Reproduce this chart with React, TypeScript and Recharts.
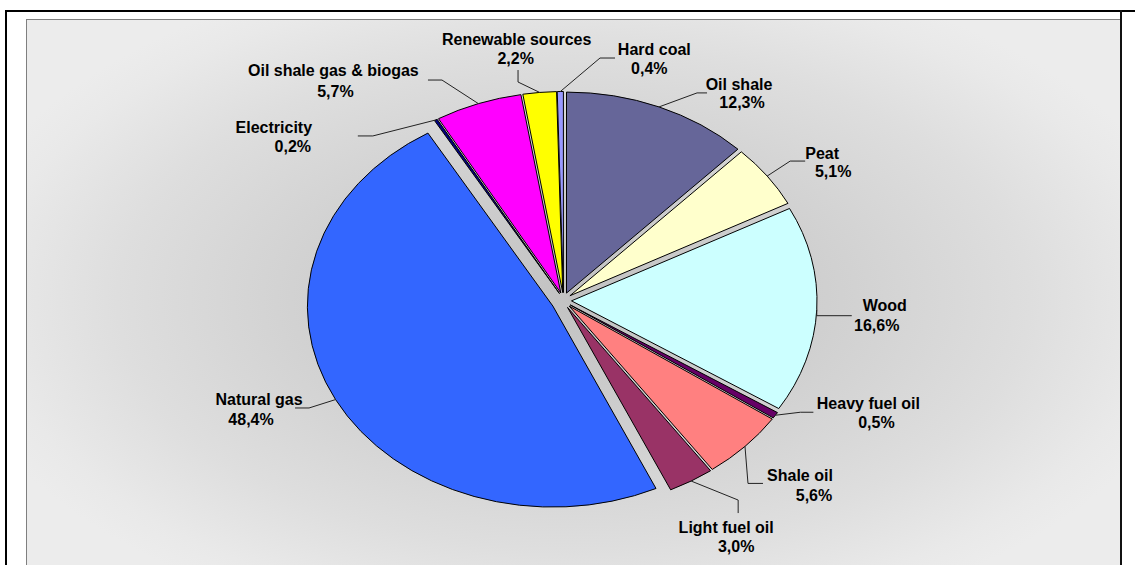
import { PieChart, Pie, Cell } from "recharts";

// fuel mix, clockwise from 12 o'clock
const fuels = [
  "Oil shale",
  "Peat",
  "Wood",
  "Heavy fuel oil",
  "Shale oil",
  "Light fuel oil",
  "Natural gas",
  "Electricity",
  "Oil shale gas & biogas",
  "Renewable sources",
  "Hard coal",
];
const shares = [12.3, 5.1, 16.6, 0.5, 5.6, 3.0, 48.4, 0.2, 5.7, 2.2, 0.4];

const colors = [
  "#666699",
  "#FFFFCC",
  "#CCFFFF",
  "#660066",
  "#FF8080",
  "#993366",
  "#3366FF",
  "#000080",
  "#FF00FF",
  "#FFFF00",
  "#9999FF",
];

// label placement relative to the slice's outer mid point
const labelLayout = [
  { line: [[38, -14], [48, -14]], t1: [80, -22], t2: [83, -4] },
  { line: [[23, -15], [38, -15]], t1: [55, -23], t2: [66, -5] },
  { line: [[0, 6], [35, 6]], t1: [68, -4], t2: [60, 16] },
  { line: [[25, -3], [38, -3]], t1: [93, -12], t2: [101, 7] },
  { line: [[3, 37], [18, 37]], t1: [55, 29], t2: [69, 49] },
  { line: [[47, 19], [47, 32]], t1: [35, 46], t2: [45, 65] },
  { line: [[-26.5, 8.4], [-40.5, 8.4]], t1: [-76.5, 0.4], t2: [-84.5, 20.4] },
  { line: [[-63, 16], [-78, 16]], t1: [-162, 8], t2: [-143, 27] },
  { line: [[-36.4, -23.6], [-50.4, -23.6]], t1: [-145, -33], t2: [-143, -12] },
  { line: [[-21.6, -10.4], [-21.6, -22.4]], t1: [-23, -53], t2: [-24, -34] },
  { line: [[39.7, -33.5], [54.7, -33.5]], t1: [94, -42], t2: [89, -23] },
];

const data = fuels.map((name, i) => ({ name, value: shares[i] }));

const RX = 245.5;
const RY = 201;
const K = RY / RX;
const EXPLODE = 8;
const EXPLODE_BIG = 12;
const explodeOf = (name: string) => (name === "Natural gas" ? EXPLODE_BIG : EXPLODE);

const RAD = Math.PI / 180;
const ellPt = (cx: number, cy: number, r: number, a: number) => [
  cx + r * Math.cos(a * RAD),
  cy - r * K * Math.sin(a * RAD),
];

const EllipseSector = (props: any) => {
  const { cx, cy, outerRadius, startAngle, endAngle, fill, payload } = props;
  const mid = (startAngle + endAngle) / 2;
  const e = explodeOf(payload?.name ?? props.name);
  const ox = e * Math.cos(mid * RAD);
  const oy = -e * Math.sin(mid * RAD);
  const [x1, y1] = ellPt(cx, cy, outerRadius, startAngle);
  const [x2, y2] = ellPt(cx, cy, outerRadius, endAngle);
  const large = Math.abs(startAngle - endAngle) > 180 ? 1 : 0;
  const sweep = startAngle > endAngle ? 1 : 0;
  const d = `M${cx},${cy} L${x1},${y1} A${outerRadius},${outerRadius * K} 0 ${large} ${sweep} ${x2},${y2} Z`;
  return (
    <path
      d={d}
      transform={`translate(${ox},${oy})`}
      fill={fill}
      stroke="#000"
      strokeWidth={1}
      strokeLinejoin="round"
    />
  );
};

const txt = {
  fontFamily: "'Liberation Sans', Arial, sans-serif",
  fontWeight: 700,
  fontSize: 16,
  fill: "#000",
};

const renderLabel = (props: any) => {
  const { cx, cy, outerRadius, midAngle, index, name, value } = props;
  const e = explodeOf(name);
  const [ex, ey] = ellPt(cx, cy, outerRadius, midAngle);
  const px = ex + e * Math.cos(midAngle * RAD);
  const py = ey - e * Math.sin(midAngle * RAD);
  const lay = labelLayout[index];
  const pts = [[px, py], ...lay.line.map(([dx, dy]) => [px + dx, py + dy])];
  const pct = value.toFixed(1).replace(".", ",") + "%";
  return (
    <g key={`lbl-${index}`}>
      <polyline
        points={pts.map((p) => p.join(",")).join(" ")}
        fill="none"
        stroke="#222"
        strokeWidth={1}
      />
      <text x={px + lay.t1[0]} y={py + lay.t1[1]} textAnchor="middle" dominantBaseline="central" {...txt}>
        {name}
      </text>
      <text x={px + lay.t2[0]} y={py + lay.t2[1]} textAnchor="middle" dominantBaseline="central" {...txt}>
        {pct}
      </text>
    </g>
  );
};

export default function App() {
  return (
    <div
      style={{
        position: "absolute",
        left: 0,
        top: 0,
        width: 1135,
        height: 565,
        background: "#fff",
        overflow: "hidden",
      }}
    >
      {/* outer frame */}
      <div style={{ position: "absolute", left: 5, top: 10, width: 1140, height: 2, background: "#000" }} />
      <div style={{ position: "absolute", left: 5, top: 10, width: 2, height: 560, background: "#000" }} />
      <div style={{ position: "absolute", left: 1120, top: 10, width: 2, height: 560, background: "#111" }} />
      {/* plot panel */}
      <div
        style={{
          position: "absolute",
          left: 26,
          top: 19,
          width: 1094,
          height: 560,
          borderLeft: "1px solid #7f7f7f",
          borderTop: "1px solid #7f7f7f",
          boxSizing: "border-box",
          background:
            "radial-gradient(ellipse 58% 62% at 50% 50%, #c2c2c2 0%, #d0d0d0 40%, #dedede 72%, #e9e9e9 92%, #ececec 100%)",
        }}
      />
      <PieChart
        width={1135}
        height={565}
        margin={{ top: 0, right: 0, bottom: 0, left: 0 }}
        style={{ position: "absolute", left: 0, top: 0 }}
      >
        <Pie
          data={data}
          dataKey="value"
          nameKey="name"
          cx={563.5}
          cy={300.5}
          outerRadius={RX}
          startAngle={90}
          endAngle={-270}
          stroke="#000"
          shape={EllipseSector}
          label={renderLabel}
          labelLine={false}
          isAnimationActive={false}
        >
          {data.map((d, i) => (
            <Cell key={d.name} fill={colors[i]} />
          ))}
        </Pie>
      </PieChart>
    </div>
  );
}
